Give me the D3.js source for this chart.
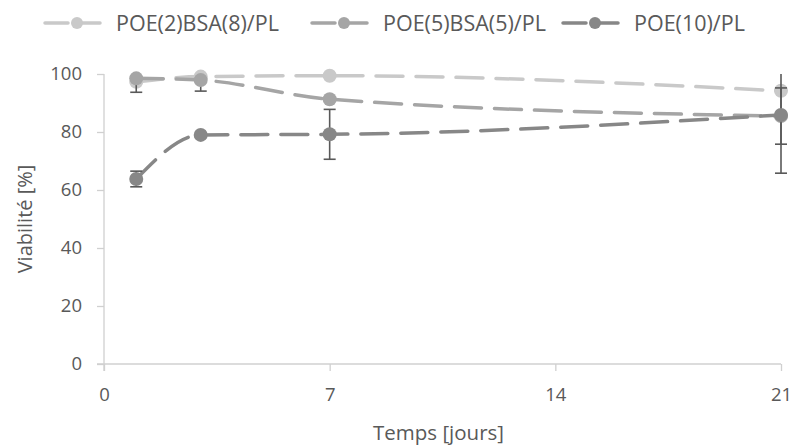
<!DOCTYPE html>
<html><head><meta charset="utf-8">
<script src="https://cdn.jsdelivr.net/npm/d3@7"></script>
<style>body{margin:0;background:#fff}svg{display:block}text{font-family:"Open Sans",sans-serif;fill:#595959}</style>
</head><body><svg id="c" width="793" height="445"></svg>
<script>
const days = [1, 3, 7, 21];
const seriesNames = ["POE(2)BSA(8)/PL", "POE(5)BSA(5)/PL", "POE(10)/PL"];
const s1Values = [97.3, 99.1, 99.4, 94.2];
const s2Values = [98.5, 97.9, 91.3, 85.5];
const s3Values = [63.8, 79.0, 79.2, 85.9];
const s1Errors = [null, null, null, null];
const s2Errors = [4.8, 3.8, null, 9.7];
const s3Errors = [2.7, null, 8.6, 20.1];
const xTicks = [0, 7, 14, 21];
const yTicks = [0, 20, 40, 60, 80, 100];
const colors = ["#C9C9C9", "#A5A5A5", "#878787"];

const svg = d3.select("#c");
const x = d3.scaleLinear().domain([0, 21]).range([104, 781]);
const y = d3.scaleLinear().domain([0, 100]).range([364, 74]);

const gy = svg.append("g").attr("transform", `translate(${x(0)},0)`)
  .call(d3.axisLeft(y).tickValues(yTicks).tickSize(7).tickPadding(15));
const gx = svg.append("g").attr("transform", `translate(0,${y(0)})`)
  .call(d3.axisBottom(x).tickValues(xTicks).tickSize(7).tickPadding(17));
[gy, gx].forEach(g => {
  g.selectAll("path").attr("stroke", "#D0D0D0").attr("stroke-width", 1.3);
  g.selectAll("line").attr("stroke", "#D0D0D0").attr("stroke-width", 1.3);
  g.selectAll("text").style("font-size", "18.5px").attr("fill", "#595959");
});
gy.select(".domain").attr("d", `M0,${y(100)}V${y(0)+7}`);
gx.select(".domain").attr("d", `M${x(0)-7},0H${x(21)}`);

svg.append("text").attr("transform", `translate(32,219) rotate(-90)`)
  .attr("text-anchor", "middle").style("font-size", "20px").text("Viabilité [%]");
svg.append("text").attr("x", (x(0)+x(21))/2 - 4).attr("y", 440)
  .attr("text-anchor", "middle").style("font-size", "20.5px").text("Temps [jours]");

const series = [
  {name: seriesNames[0], vals: s1Values, errs: s1Errors, color: colors[0]},
  {name: seriesNames[1], vals: s2Values, errs: s2Errors, color: colors[1]},
  {name: seriesNames[2], vals: s3Values, errs: s3Errors, color: colors[2]}
];

const line = d3.line().x(d => x(d[0])).y(d => y(d[1])).curve(d3.curveMonotoneX);
const clampY = v => y(Math.max(0, Math.min(100, v)));

series.forEach(s => {
  const pts = days.map((d, i) => [d, s.vals[i]]);
  svg.append("path").attr("d", line(pts)).attr("fill", "none")
    .attr("stroke", s.color).attr("stroke-width", 3.5)
    .attr("stroke-dasharray", "27,13").attr("stroke-linecap", "round");
  days.forEach((d, i) => {
    const e = s.errs[i];
    if (e == null) return;
    const lo = s.vals[i] - e, hi = s.vals[i] + e;
    const g = svg.append("g").attr("stroke", "#595959").attr("stroke-width", 1.6);
    g.append("line").attr("x1", x(d)).attr("x2", x(d)).attr("y1", clampY(lo)).attr("y2", clampY(hi));
    if (lo >= 0) g.append("line").attr("x1", x(d)-6).attr("x2", x(d)+6).attr("y1", y(lo)).attr("y2", y(lo));
    if (hi <= 100) g.append("line").attr("x1", x(d)-6).attr("x2", x(d)+6).attr("y1", y(hi)).attr("y2", y(hi));
  });
  svg.append("g").selectAll("circle").data(pts).join("circle")
    .attr("cx", d => x(d[0])).attr("cy", d => y(d[1])).attr("r", 7).attr("fill", s.color);
});

const legX = [45, 312, 563];
series.forEach((s, i) => {
  const g = svg.append("g").attr("transform", `translate(${legX[i]},23)`);
  g.append("line").attr("x1", 0).attr("x2", 64).attr("y1", 0).attr("y2", 0)
    .attr("stroke", s.color).attr("stroke-width", 3.5).attr("stroke-dasharray", "23,9")
    .attr("stroke-linecap", "round");
  g.append("circle").attr("cx", 32).attr("cy", 0).attr("r", 6).attr("fill", s.color);
  g.append("text").attr("x", 71).attr("y", 7.5).style("font-size", "21.5px").text(s.name);
});
</script></body></html>
